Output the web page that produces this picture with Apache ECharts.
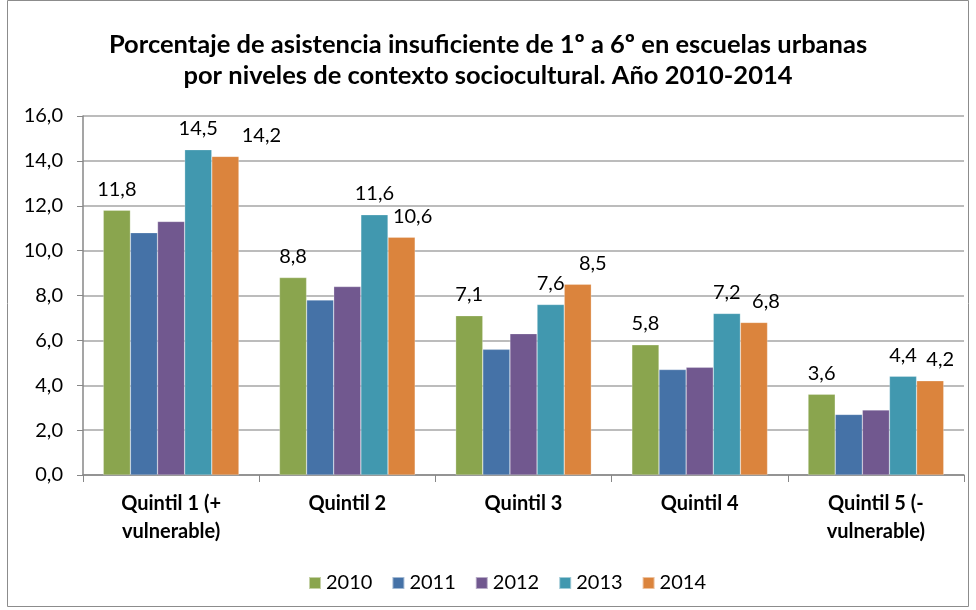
<!DOCTYPE html>
<html><head><meta charset="utf-8">
<script src="https://cdn.jsdelivr.net/npm/echarts@6/dist/echarts.min.js"></script>
<style>html,body{margin:0;padding:0;background:#fff}#c{width:976px;height:610px}</style>
</head><body><div id="c"></div>
<script>
const categories = ['Quintil 1 (+\nvulnerable)', 'Quintil 2', 'Quintil 3', 'Quintil 4', 'Quintil 5 (-\nvulnerable)'];
const years = ['2010', '2011', '2012', '2013', '2014'];
const v2010 = [11.8, 8.8, 7.1, 5.8, 3.6];
const v2011 = [10.8, 7.8, 5.6, 4.7, 2.7];
const v2012 = [11.3, 8.4, 6.3, 4.8, 2.9];
const v2013 = [14.5, 11.6, 7.6, 7.2, 4.4];
const v2014 = [14.2, 10.6, 8.5, 6.8, 4.2];
const showLabels = [true, false, false, true, true];
const colors = ['#8AA54E', '#4572A7', '#71588F', '#4198AF', '#DB843D'];
const seriesData = [v2010, v2011, v2012, v2013, v2014];
const font = 'Lato, "Open Sans", sans-serif';
const fmt = v => v.toFixed(1).replace('.', ',');
// horizontal nudge of the 2014 labels, as in the original
const label2014Shift = [36, 11, 15, 12, 10];

const chart = echarts.init(document.getElementById('c'));
chart.setOption({
  animation: false,
  color: colors,
  textStyle: { fontFamily: font },
  title: {
    text: 'Porcentaje de asistencia insuficiente de 1º a 6º en escuelas urbanas\npor niveles de contexto sociocultural. Año 2010-2014',
    left: 'center', top: 24,
    textStyle: { fontFamily: font, fontSize: 25.5, fontWeight: 'bold', color: '#000', lineHeight: 31 }
  },
  graphic: [{ type: 'rect', shape: { x: 7.5, y: 0.5, width: 961, height: 606 }, style: { fill: 'none', stroke: '#8c8c8c', lineWidth: 1 }, silent: true }],
  legend: {
    data: years, top: 568, left: 303, itemWidth: 12, itemHeight: 12, itemGap: 19, icon: 'rect',
    textStyle: { fontFamily: font, fontSize: 20, color: '#000' }
  },
  grid: { left: 83, right: 12, top: 116, bottom: 135 },
  xAxis: {
    type: 'category', data: categories,
    axisLine: { lineStyle: { color: '#878787', width: 1.5 } },
    axisTick: { show: true, length: 7, lineStyle: { color: '#878787' } },
    axisLabel: { fontFamily: font, fontSize: 20, fontWeight: 'bold', color: '#000', margin: 15, lineHeight: 28 }
  },
  yAxis: {
    type: 'value', min: 0, max: 16, interval: 2,
    axisLine: { show: true, lineStyle: { color: '#878787', width: 1.5 } },
    axisTick: { show: true, length: 6, lineStyle: { color: '#878787' } },
    splitLine: { lineStyle: { color: '#a6a6a6', width: 1.5 } },
    axisLabel: { fontFamily: font, fontSize: 20, color: '#000', margin: 20, formatter: v => fmt(v) }
  },
  series: seriesData.map((d, i) => ({
    name: years[i], type: 'bar', barGap: '0%', barCategoryGap: '23%',
    data: d.map((v, j) => i === 4 ? { value: v, label: { offset: [label2014Shift[j], 0] } } : v),
    itemStyle: { color: colors[i], borderColor: 'rgba(255,255,255,0.5)', borderWidth: 0.5 },
    label: {
      show: showLabels[i], position: 'top', distance: 11, fontFamily: font, fontSize: 20, color: '#000',
      formatter: p => fmt(p.value)
    }
  }))
});
</script></body></html>
